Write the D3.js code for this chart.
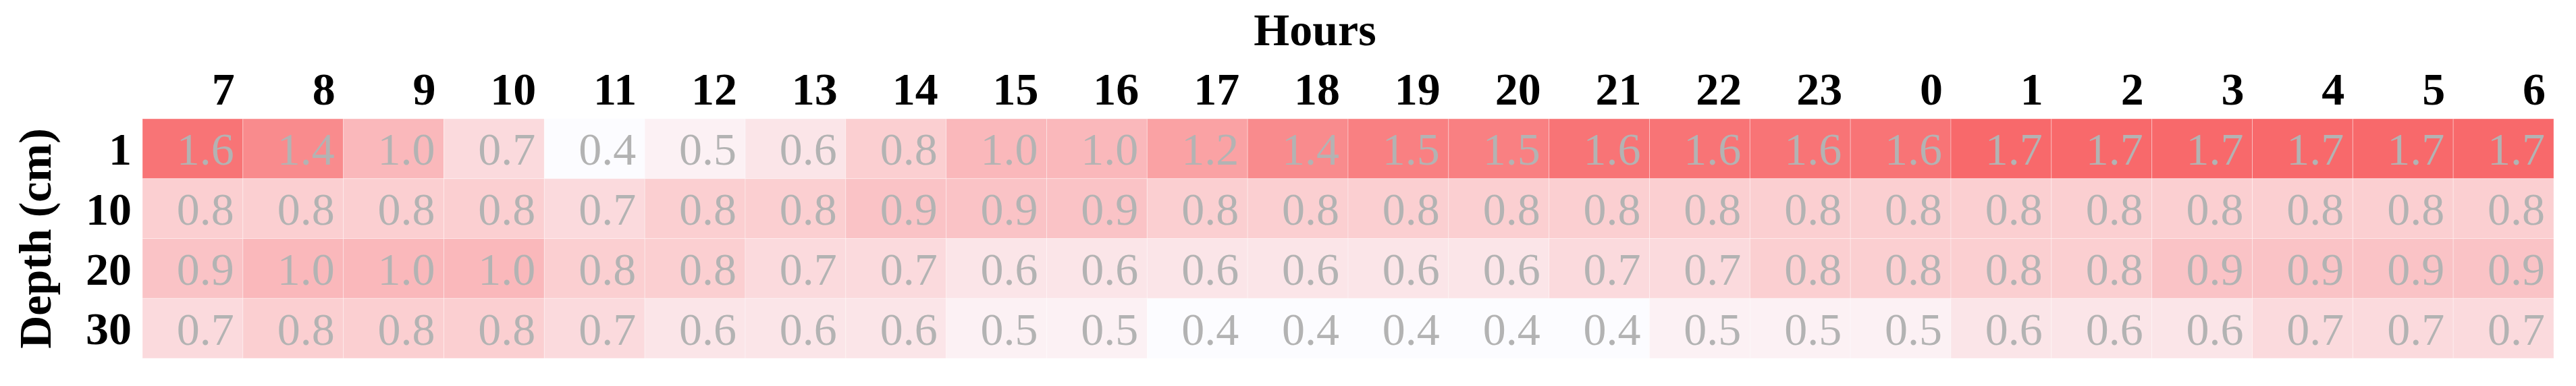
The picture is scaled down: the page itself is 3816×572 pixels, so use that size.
<!DOCTYPE html>
<meta charset="utf-8">
<style>
body { margin: 0; background: #fff; }
svg { font-family: "Liberation Serif", "Times New Roman", serif; }
.axis text { font-family: "Liberation Serif", "Times New Roman", serif; font-size: 68px; font-weight: bold; fill: #000; }
.axis path, .axis line { display: none; }
.title { font-size: 68px; font-weight: bold; }
.cell text { font-size: 68px; fill: #b3b3b3; }
</style>
<body>
<script src="https://cdn.jsdelivr.net/npm/d3@7/dist/d3.min.js"></script>
<script>
var hours = ["7","8","9","10","11","12","13","14","15","16","17","18","19","20","21","22","23","0","1","2","3","4","5","6"];
var depths = ["1","10","20","30"];

var depth1  = [1.6,1.4,1.0,0.7,0.4,0.5,0.6,0.8,1.0,1.0,1.2,1.4,1.5,1.5,1.6,1.6,1.6,1.6,1.7,1.7,1.7,1.7,1.7,1.7];
var depth10 = [0.8,0.8,0.8,0.8,0.7,0.8,0.8,0.9,0.9,0.9,0.8,0.8,0.8,0.8,0.8,0.8,0.8,0.8,0.8,0.8,0.8,0.8,0.8,0.8];
var depth20 = [0.9,1.0,1.0,1.0,0.8,0.8,0.7,0.7,0.6,0.6,0.6,0.6,0.6,0.6,0.7,0.7,0.8,0.8,0.8,0.8,0.9,0.9,0.9,0.9];
var depth30 = [0.7,0.8,0.8,0.8,0.7,0.6,0.6,0.6,0.5,0.5,0.4,0.4,0.4,0.4,0.4,0.5,0.5,0.5,0.6,0.6,0.6,0.7,0.7,0.7];

var rows = [depth1, depth10, depth20, depth30];

var margin = {top: 176, right: 33, bottom: 41, left: 211},
    width = 3816 - margin.left - margin.right,
    height = 572 - margin.top - margin.bottom;

var svg = d3.select("body").append("svg")
    .attr("width", 3816)
    .attr("height", 572)
  .append("g")
    .attr("transform", "translate(" + margin.left + "," + margin.top + ")");

var x = d3.scaleBand().domain(hours).range([0, width]);
var y = d3.scaleBand().domain(depths).range([0, height]);
var color = d3.scaleLinear().domain([0.4, 1.7]).range(["#fcfcff", "#f8696b"]);

var data = [];
rows.forEach(function(r, i) {
  r.forEach(function(v, j) {
    data.push({depth: depths[i], hour: hours[j], value: v});
  });
});

var cell = svg.selectAll(".cell")
    .data(data)
  .enter().append("g")
    .attr("class", "cell")
    .attr("transform", function(d) { return "translate(" + x(d.hour) + "," + y(d.depth) + ")"; });

cell.append("rect")
    .attr("width", x.bandwidth())
    .attr("height", y.bandwidth())
    .attr("fill", function(d) { return color(d.value); })
    .attr("stroke", "rgba(255,255,255,0.35)")
    .attr("stroke-width", 1);

cell.append("text")
    .attr("x", x.bandwidth() - 13)
    .attr("y", y.bandwidth() / 2 + 24)
    .attr("text-anchor", "end")
    .text(function(d) { return d.value.toFixed(1); });

// column labels
svg.append("g")
    .attr("class", "axis")
    .call(d3.axisTop(x).tickSize(0).tickPadding(21))
    .attr("font-family", null)
  .selectAll("text")
    .attr("text-anchor", "end")
    .attr("x", x.bandwidth() / 2 - 12);

// row labels
svg.append("g")
    .attr("class", "axis")
    .call(d3.axisLeft(y).tickSize(0).tickPadding(16))
    .attr("font-family", null)
  .selectAll("text")
    .attr("dy", "0.35em");

svg.append("text")
    .attr("class", "title")
    .attr("x", 1948 - margin.left)
    .attr("y", 67 - margin.top)
    .attr("text-anchor", "middle")
    .text("Hours");

svg.append("text")
    .attr("class", "title")
    .attr("transform", "translate(" + (75 - margin.left) + "," + (height / 2) + ") rotate(-90)")
    .attr("text-anchor", "middle")
    .text("Depth (cm)");
</script>
